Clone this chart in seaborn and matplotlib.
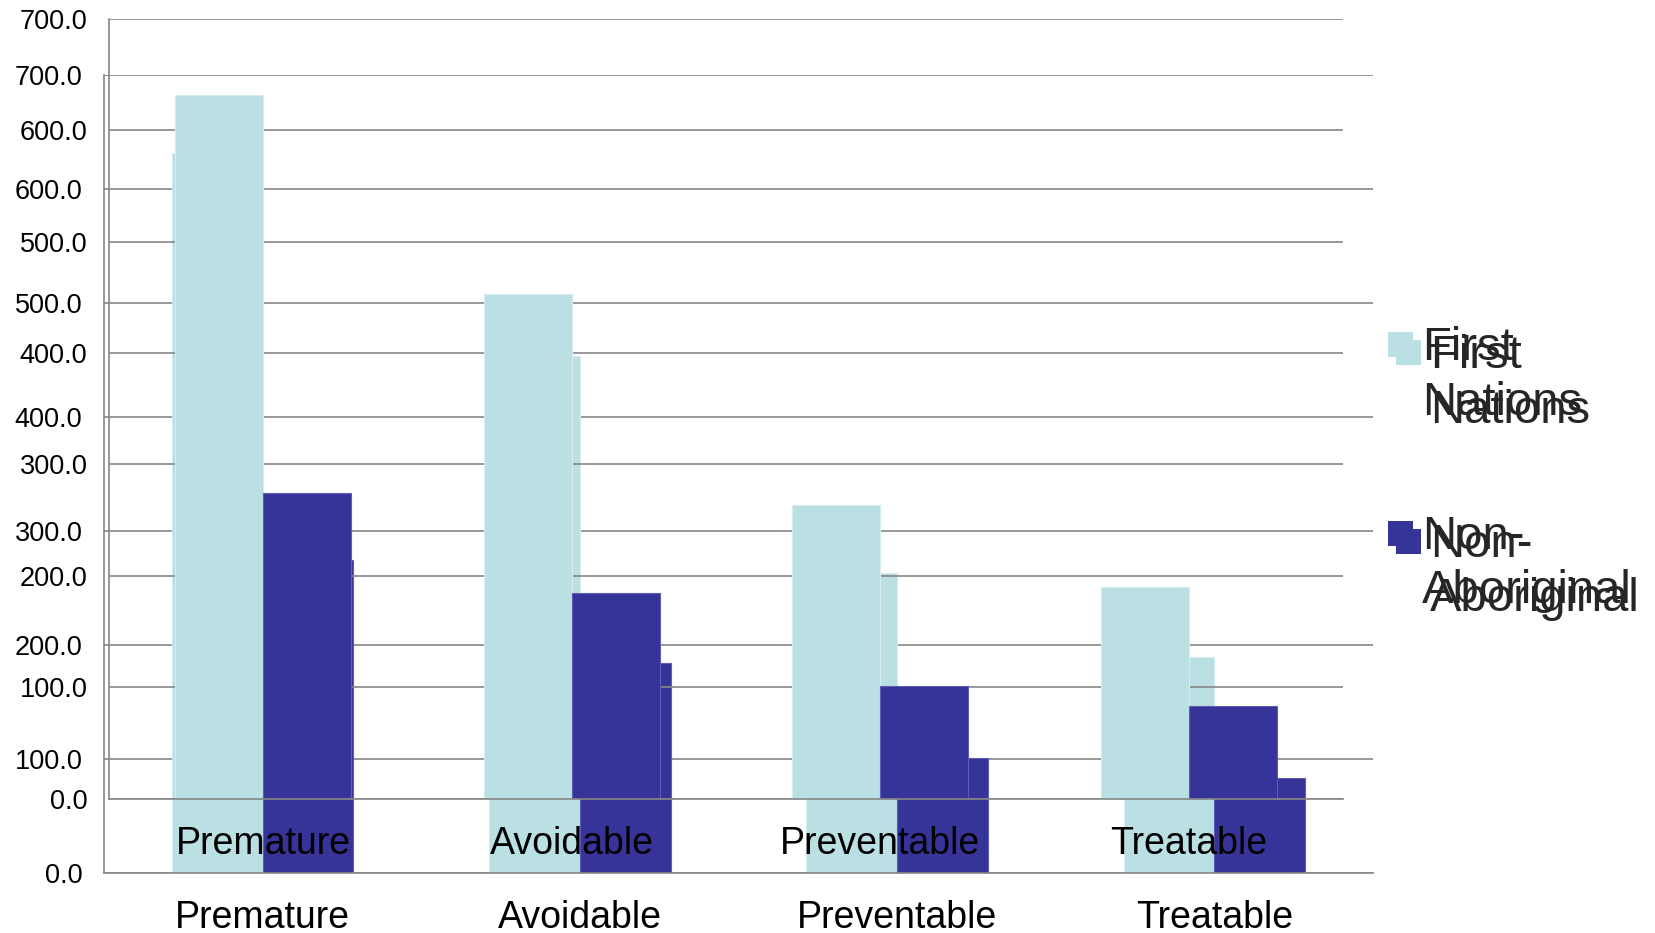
import matplotlib
matplotlib.use("Agg")
import matplotlib.pyplot as plt
import seaborn as sns
import pandas as pd
from matplotlib.patches import Patch, Rectangle
from matplotlib.legend_handler import HandlerPatch
from matplotlib.ticker import FormatStrFormatter

# Mortality rates per 100,000 by cause group
categories = ["Premature", "Avoidable", "Preventable", "Treatable"]
groups = ["First Nations", "Non-Aboriginal"]
first_nations = [631.4, 453.3, 263.2, 190.1]
non_aboriginal = [274.7, 184.4, 101.0, 83.4]
legend_labels = ["First\nNations", "Non-\nAboriginal"]
y_ticks = [0, 100, 200, 300, 400, 500, 600, 700]

colors = ["#BAE0E3", "#363399"]
edge_colors = ["#D6ECEE", "#5F5DB3"]
gray = "#868686"

sns.set_theme(style="white")
plt.rcParams["font.family"] = ["Liberation Sans", "DejaVu Sans"]

df = pd.DataFrame({
    "Category": categories * 2,
    "Group": [groups[0]] * len(categories) + [groups[1]] * len(categories),
    "Rate": first_nations + non_aboriginal,
})

fig = plt.figure(figsize=(16.56, 9.33), dpi=100)
W, H = 1656.0, 933.0

LEGEND_FS = 34
LINE_SPACING = 1.31


class FirstLineSquare(HandlerPatch):
    """Square legend key aligned with the first line of a wrapped label."""

    def __init__(self, shift):
        super().__init__()
        self.shift = shift

    def create_artists(self, legend, orig_handle, xdescent, ydescent,
                       width, height, fontsize, trans):
        size = width
        y0 = -ydescent + height / 2 - size / 2 + self.shift
        sq = Rectangle((-xdescent, y0), size, size,
                       facecolor=orig_handle.get_facecolor(),
                       edgecolor="none", transform=trans)
        return [sq]


def draw_panel(left, top, right, bottom, legend_xy, z):
    ax = fig.add_axes([left / W, 1 - bottom / H, (right - left) / W, (bottom - top) / H], zorder=z)
    ax.set_facecolor("none")
    sns.barplot(data=df, x="Category", y="Rate", hue="Group", order=categories,
                hue_order=groups, palette=colors, width=2 / 3.5, saturation=1,
                legend=False, ax=ax, linewidth=0)
    for i, cont in enumerate(ax.containers):
        for bar in cont:
            bar.set_edgecolor(edge_colors[i])
            bar.set_linewidth(0.8)
    ax.set_xlim(-0.5, 3.5)
    ax.set_ylim(0, 700)
    ax.set_axisbelow(True)
    ax.yaxis.grid(True, color=gray, lw=1.2)
    ax.xaxis.grid(False)
    ax.set_yticks(y_ticks)
    ax.yaxis.set_major_formatter(FormatStrFormatter("%.1f"))
    ax.tick_params(axis="y", direction="out", length=6, width=1.2, color=gray,
                   labelsize=19.5, pad=9.5, labelcolor="black")
    ax.set_xticks(range(len(categories)))
    ax.set_xticklabels(categories)
    ax.set_xticks([i - 0.5 for i in range(len(categories) + 1)], minor=True)
    ax.tick_params(axis="x", which="major", length=0, labelsize=27, pad=19.5, labelcolor="black")
    ax.tick_params(axis="x", which="minor", direction="out", length=8, width=1.2, color=gray)
    for s in ["top", "right"]:
        ax.spines[s].set_visible(False)
    for s in ["left", "bottom"]:
        ax.spines[s].set_color(gray)
        ax.spines[s].set_linewidth(1.2)
    ax.set_xlabel("")
    ax.set_ylabel("")

    handles = [Patch(facecolor=c, edgecolor="none") for c in colors]
    shift = 0.5 * LINE_SPACING * LEGEND_FS / 1.2 + 3.6
    leg = fig.legend(handles, legend_labels, loc="upper left",
                     bbox_to_anchor=(legend_xy[0] / W, 1 - legend_xy[1] / H),
                     frameon=False, fontsize=LEGEND_FS, handlelength=0.53,
                     handleheight=0.6, handletextpad=0.19, labelspacing=1.91,
                     borderpad=0, borderaxespad=0,
                     handler_map={Patch: FirstLineSquare(shift)})
    for t in leg.get_texts():
        t.set_linespacing(LINE_SPACING)
    return ax


draw_panel(104, 75, 1373, 873.3, (1396, 334), 1)
draw_panel(109, 18.7, 1343, 798.7, (1388, 326), 2)

fig.savefig("out.png", dpi=100)
